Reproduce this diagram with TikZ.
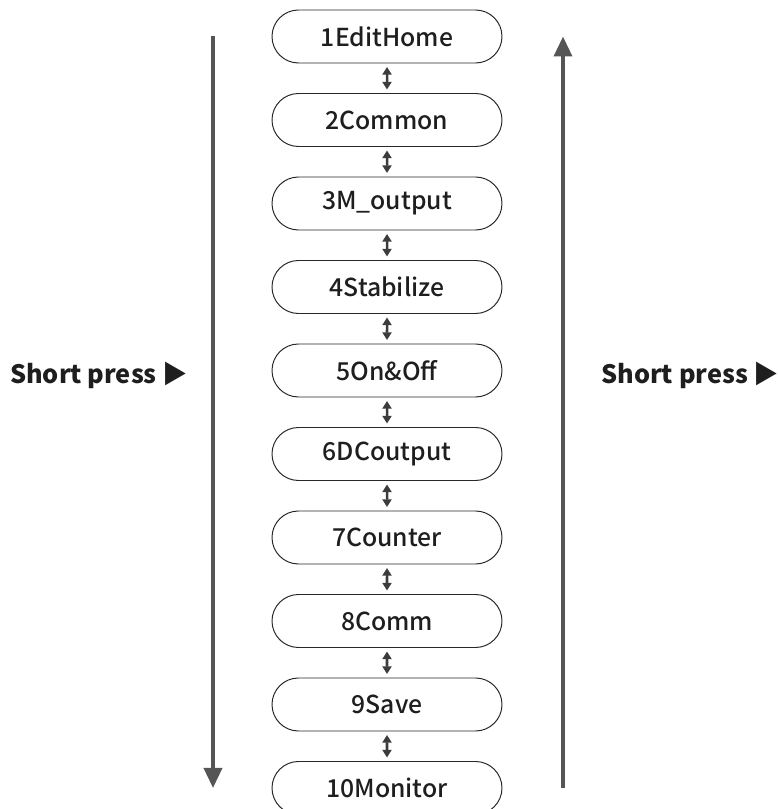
\documentclass[tikz,border=0pt]{standalone}
\usepackage{fontspec}
\setmainfont{Noto Sans CJK SC}
\newfontfamily\boxfont{Noto Sans CJK SC Medium}
\usetikzlibrary{positioning, arrows.meta, calc, shapes.misc}
\definecolor{boxline}{RGB}{40,40,40}
\definecolor{boxtext}{RGB}{30,30,30}
\definecolor{flowgray}{RGB}{85,85,85}
\definecolor{swapgray}{RGB}{60,60,60}

\begin{document}
\begin{tikzpicture}[
    every node/.style={font=\boxfont\fontsize{17.6}{20}\selectfont},
    node distance=0.7625cm,
    menubox/.style={rounded rectangle, draw=boxline, line width=0.7pt,
      minimum width=5.75cm, minimum height=1.325cm, inner sep=0pt,
      outer sep=0pt, text=boxtext},
    swaparrow/.style={{Triangle[width=6.5pt,length=5.5pt]}-{Triangle[width=6.5pt,length=5.5pt]},
      line width=1.8pt, swapgray, shorten <=0.1cm, shorten >=0.1cm},
    flowarrow/.style={-{Triangle[width=0.45cm,length=0.5cm]},
      line width=2.5pt, flowgray},
    presslabel/.style={font=\fontsize{18}{21}\selectfont\bfseries,
      text=boxtext, inner sep=0pt}
  ]

  % fixed frame, same proportions as the screen shot
  \useasboundingbox (0,0) rectangle (19.45,20.225);

  % ============================================================
  %  MENU COLUMN
  % ============================================================
  \node[menubox] (n1) at (9.675, 19.3125) {1EditHome};
  \node[menubox, below=of n1] (n2) {2Common};
  \node[menubox, below=of n2] (n3) {3M\_output};
  \node[menubox, below=of n3] (n4) {4Stabilize};
  \node[menubox, below=of n4] (n5) {5On\&Off};
  \node[menubox, below=of n5] (n6) {6DCoutput};
  \node[menubox, below=of n6] (n7) {7Counter};
  \node[menubox, below=of n7] (n8) {8Comm};
  \node[menubox, below=of n8] (n9) {9Save};
  \node[menubox, below=of n9] (n10) {10Monitor};

  % two-way links between neighbours
  \draw[swaparrow] (n1) -- (n2);
  \draw[swaparrow] (n2) -- (n3);
  \draw[swaparrow] (n3) -- (n4);
  \draw[swaparrow] (n4) -- (n5);
  \draw[swaparrow] (n5) -- (n6);
  \draw[swaparrow] (n6) -- (n7);
  \draw[swaparrow] (n7) -- (n8);
  \draw[swaparrow] (n8) -- (n9);
  \draw[swaparrow] (n9) -- (n10);

  % ============================================================
  %  SIDE ARROWS
  % ============================================================
  \coordinate (Ltop) at ($(n1.center)+(-4.35,0)$);
  \coordinate (Lbot) at ($(n10.center)+(-4.35,0)$);
  \coordinate (Rtop) at ($(n1.center)+(4.4,0)$);
  \coordinate (Rbot) at ($(n10.center)+(4.4,0)$);

  % down (left) and up (right)
  \draw[flowarrow] (Ltop) -- (Lbot);
  \draw[flowarrow] (Rbot) -- (Rtop);

  % labels
  \node[presslabel, anchor=east] (lpress)
    at ($(n5.center -| Ltop)+(-0.62,-0.12)$) {\rmfamily\bfseries Short press ▶};
  \node[presslabel, anchor=west] (rpress)
    at ($(n5.center -| Rtop)+(0.95,-0.12)$) {\rmfamily\bfseries Short press ▶};

\end{tikzpicture}
\end{document}
